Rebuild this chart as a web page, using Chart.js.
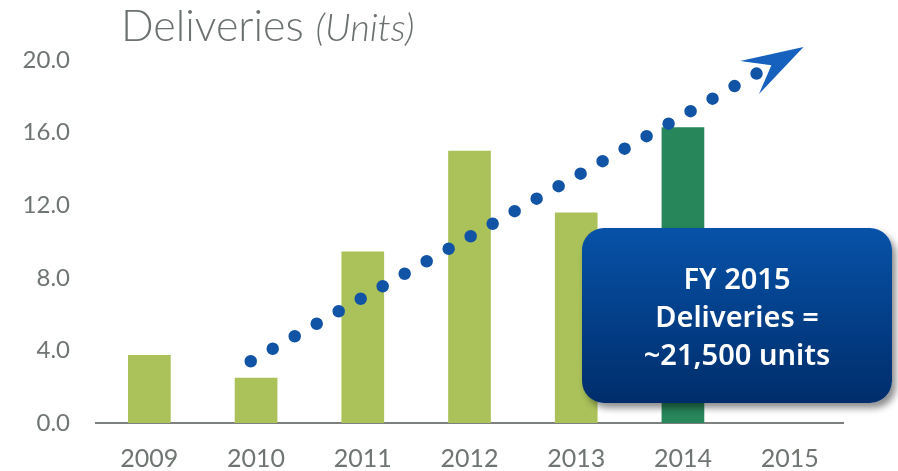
<!DOCTYPE html>
<html>
<head>
<meta charset="utf-8">
<script src="https://cdn.jsdelivr.net/npm/chart.js"></script>
<style>
    html, body { margin: 0; padding: 0; background: #fff; }
    #wrap { position: relative; width: 898px; height: 471px; overflow: hidden; }
    #title {
        position: absolute; left: 121px; top: -1px;
        font-family: 'Lato', sans-serif; font-weight: 300;
        font-size: 43px; color: #6b716e; white-space: nowrap;
    }
    #title i { font-size: 38px; }
    #callout {
        position: absolute; left: 582px; top: 228px; width: 310px; height: 175px;
        border-radius: 22px;
        background: linear-gradient(#0752a8, #002d6b);
        box-shadow: 4px 5px 7px rgba(0, 0, 0, 0.45);
        color: #fff; text-align: center;
        font-family: 'Noto Sans', sans-serif; font-weight: 600; font-size: 29px;
        line-height: 38px; padding-top: 31px; box-sizing: border-box;
    }
</style>
</head>
<body>
<div id="wrap">
    <canvas id="myChart" width="898" height="471"></canvas>
    <div id="title">Deliveries <i>(Units)</i></div>
    <div id="callout">FY 2015<br>Deliveries =<br>~21,500 units</div>
</div>

<script>
    const years = ['2009', '2010', '2011', '2012', '2013', '2014', '2015'];
    const deliveries = [3.75, 2.5, 9.45, 15.0, 11.6, 16.3, null];
    const barColors = ['#abc25a', '#abc25a', '#abc25a', '#abc25a', '#abc25a', '#27865a', '#abc25a'];

    // trend arrow: start and end of the dotted line (category index, value)
    const trendX = [0.95, 5.69];
    const trendY = [3.4, 19.25];

    const tickColor = '#6f7571';

    // arrow head at the end of the dotted line
    const arrowHead = {
        id: 'arrowHead',
        afterDatasetsDraw(chart) {
            const meta = chart.getDatasetMeta(1);
            const pts = meta.data;
            const a = pts[0], b = pts[pts.length - 1];
            const dx = b.x - a.x, dy = b.y - a.y;
            const len = Math.sqrt(dx * dx + dy * dy);
            const ux = dx / len, uy = dy / len;
            const nx = -uy, ny = ux;
            const tipX = b.x + ux * 54, tipY = b.y + uy * 54;
            const at = (u, v) => [tipX + ux * u + nx * v, tipY + uy * u + ny * v];
            const c = chart.ctx;
            c.save();
            c.fillStyle = '#1661be';
            c.beginPath();
            c.moveTo(tipX, tipY);
            c.lineTo(...at(-62, -19));
            c.lineTo(...at(-37, 0));
            c.lineTo(...at(-62, 19));
            c.closePath();
            c.fill();
            c.restore();
        }
    };

    const ctx = document.getElementById('myChart');

    new Chart(ctx, {
        type: 'bar',
        data: {
            labels: years,
            datasets: [{
                type: 'bar',
                label: 'Deliveries',
                data: deliveries,
                backgroundColor: barColors,
                barPercentage: 0.4,
                categoryPercentage: 1.0,
                grouped: false,
                order: 1
            }, {
                type: 'line',
                label: 'Trend',
                xAxisID: 'xTrend',
                data: trendX.map((x, i) => ({x: x, y: trendY[i]})),
                borderColor: '#1153a5',
                borderWidth: 12.5,
                borderDash: [0, 25.3],
                borderCapStyle: 'round',
                pointRadius: 0,
                fill: false,
                clip: false,
                order: 0
            }]
        },
        options: {
            responsive: false,
            animation: false,
            layout: { padding: { top: 60, right: 55, left: 0, bottom: 0 } },
            plugins: {
                legend: { display: false },
                tooltip: { enabled: false }
            },
            scales: {
                x: {
                    type: 'category',
                    offset: true,
                    grid: { display: false, drawTicks: false },
                    border: { display: true, color: '#7c817e', width: 2 },
                    ticks: { color: tickColor, padding: 21, font: { family: 'Lato', size: 25 } },
                    afterFit: (s) => { s.height = 48; }
                },
                xTrend: {
                    type: 'linear',
                    position: 'bottom',
                    min: -0.5,
                    max: 6.5,
                    offset: false,
                    grid: { offset: false },
                    display: false
                },
                y: {
                    min: 0,
                    max: 20,
                    grid: { display: false, drawTicks: false },
                    border: { display: false },
                    ticks: {
                        stepSize: 4,
                        color: tickColor,
                        padding: 26,
                        font: { family: 'Lato', size: 24 },
                        callback: (v) => v.toFixed(1)
                    },
                    afterFit: (s) => { s.width = 96; }
                }
            }
        },
        plugins: [arrowHead]
    });
</script>
</body>
</html>
